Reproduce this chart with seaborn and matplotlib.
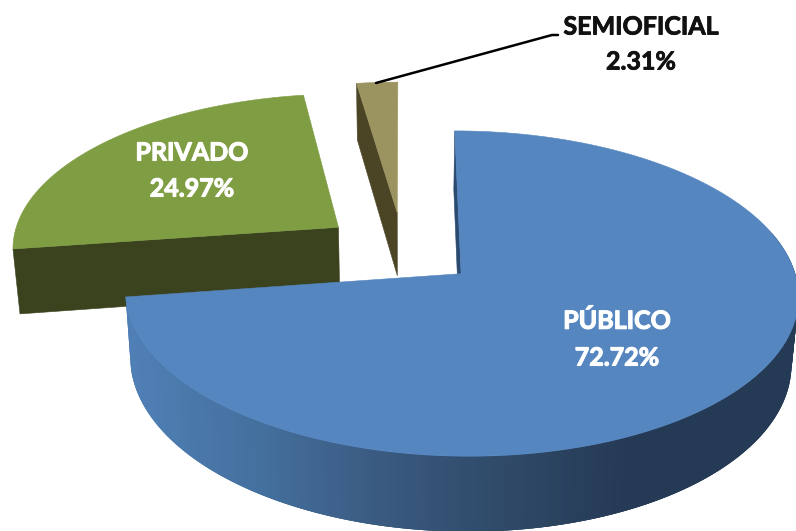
import matplotlib
matplotlib.use('Agg')
import matplotlib.pyplot as plt
import matplotlib.patheffects as pe
from matplotlib.patches import Polygon
import numpy as np
import seaborn as sns

categories = ["PÚBLICO", "PRIVADO", "SEMIOFICIAL"]
shares = [72.72, 24.97, 2.31]
explode = [0.23, 0.25, 0.25]
top_colors = ["#5586C0", "#7F9D43", "#9C9460"]
side_colors = ["#2A4A70", "#3A431E", "#4B4526"]
wall_stops = ["#4F7FB5", "#44709E", "#3A5A80", "#2F4A68", "#253A55"]

# camera for the fake 3d look, in pixels
VX, VY = 403, 250
SX, SY = 328, 154.5
PERSP = 0.12
DEPTH = 65
SHRINK = 0.982

sns.set_theme(style="white")
plt.rcParams['font.family'] = ['Lato', 'DejaVu Sans']


def project(x, y, low=False):
    w = 1 + PERSP * y
    px = SX * x / w
    py = -SY * y / w
    if low:
        px = px * SHRINK
        py = py + DEPTH / w
    return VX + px, VY + py


def arc(wedge, t1, t2, n=160):
    t = np.radians(np.linspace(t1, t2, n))
    return wedge.center[0] + wedge.r * np.cos(t), wedge.center[1] + wedge.r * np.sin(t)


def add_poly(ax, x, y, color, z, lw=0.4):
    ax.add_patch(Polygon(np.column_stack([x, y]), closed=True, facecolor=color,
                         edgecolor=color, linewidth=lw, zorder=z))


def radial_face(ax, wedge, theta, color, z):
    ex, ey = arc(wedge, theta, theta, 1)
    cx, cy = wedge.center
    top = [project(cx, cy), project(ex[0], ey[0])]
    low = [project(ex[0], ey[0], True), project(cx, cy, True)]
    pts = np.array(top + low)
    add_poly(ax, pts[:, 0], pts[:, 1], color, z)


def top_face(ax, wedge, color, z):
    ax_, ay_ = arc(wedge, wedge.theta1, wedge.theta2)
    x = np.r_[wedge.center[0], ax_]
    y = np.r_[wedge.center[1], ay_]
    sx, sy = project(x, y)
    add_poly(ax, sx, sy, color, z)


def outer_wall(ax, wedge, t1, t2, z):
    # strips along the rim, each one overlaps the next so no seams show
    palette = sns.blend_palette(wall_stops, 80)
    x, y = arc(wedge, t1, t2, 240)
    tx, ty = project(x, y)
    lx, ly = project(x, y, True)
    for i in range(len(x) - 1):
        j = min(i + 3, len(x) - 1)
        idx = int(np.clip((tx[i] - 130) / (620 - 130), 0, 1) * 79)
        add_poly(ax, np.r_[tx[i:j + 1], lx[i:j + 1][::-1]],
                 np.r_[ty[i:j + 1], ly[i:j + 1][::-1]], palette[idx], z, lw=0)


fig = plt.figure(figsize=(7.96, 5.31), dpi=100)
ax = fig.add_axes([0, 0, 1, 1])

wedges, _ = ax.pie(shares, explode=explode, startangle=90, counterclock=False)
public, private, semi = wedges
for w in wedges:
    w.set_visible(False)

radial_face(ax, private, private.theta2, side_colors[1], 2)
top_face(ax, private, top_colors[1], 3)

radial_face(ax, semi, semi.theta2, side_colors[2], 2)
top_face(ax, semi, top_colors[2], 3)

radial_face(ax, public, public.theta2, side_colors[0], 4)
outer_wall(ax, public, public.theta1, 15, 5)
top_face(ax, public, top_colors[0], 6)

ax.plot([376, 552, 558], [83, 35, 35], color="black", lw=1.8, zorder=7)

label_style = dict(ha="center", va="center", fontsize=18, fontweight="bold", zorder=8)
white_bold = [pe.withStroke(linewidth=0.8, foreground="white")]
dark_bold = [pe.withStroke(linewidth=0.6, foreground="#111111")]
ax.text(617, 321, categories[0], color="white", path_effects=white_bold, **label_style)
ax.text(617, 358, f"{shares[0]:.2f}%", color="white", path_effects=white_bold, **label_style)
ax.text(192, 153, categories[1], color="white", path_effects=white_bold, **label_style)
ax.text(192, 189, f"{shares[1]:.2f}%", color="white", path_effects=white_bold, **label_style)
ax.text(641, 27, categories[2], color="#111111", path_effects=dark_bold, **label_style)
ax.text(641, 62, f"{shares[2]:.2f}%", color="#111111", path_effects=dark_bold, **label_style)

ax.set_aspect('auto')
ax.set_xlim(0, 796)
ax.set_ylim(531, 0)
ax.axis('off')

plt.savefig("out.png", dpi=100)
plt.close()
